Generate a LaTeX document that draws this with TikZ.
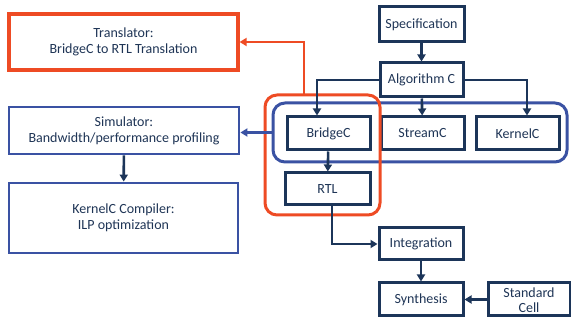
\documentclass[tikz,border=0pt]{standalone}
\usepackage{fontspec}
\setmainfont{Carlito}
\usetikzlibrary{arrows.meta}
\definecolor{navy}{HTML}{1C3559}
\definecolor{ink}{HTML}{1F3556}
\definecolor{flowblue}{HTML}{3A52A3}
\definecolor{flowred}{HTML}{EE4B24}
\tikzset{
  x=1pt, y=-1pt,
  every node/.style={font=\fontsize{14}{16}\selectfont, text=ink, inner sep=0pt, align=center},
  stage/.style={draw=navy, line width=3pt, fill=white},
  toolbox/.style={draw=flowblue, line width=2.8pt, fill=white},
  redbox/.style={draw=flowred, line width=3.2pt, fill=white},
  flow/.style={draw=navy, line width=2.6pt, -{Triangle[length=7pt,width=8pt]}},
  blueflow/.style={draw=flowblue, line width=2.4pt, -{Triangle[length=7pt,width=8pt]}},
  redflow/.style={draw=flowred, line width=2.4pt, -{Triangle[length=7pt,width=8pt]}},
  group/.style={line width=3pt, rounded corners=12pt}
}
\begin{document}
\begin{tikzpicture}
\useasboundingbox (0,0) rectangle (571,320);

% groupings
\node[group, draw=flowblue, minimum width=294pt, minimum height=59pt] (bluegrp) at (420,132.5) {};

% main flow stages
\node[stage, minimum width=85pt, minimum height=35pt] (spec) at (421.5,24.5) {Specification};
\node[stage, minimum width=83pt, minimum height=34pt] (alg) at (421.5,80) {Algorithm C};
\node[stage, minimum width=83pt, minimum height=33pt] (bridge) at (328.5,133.5) {BridgeC};
\node[stage, minimum width=83pt, minimum height=33pt] (stream) at (422.5,133.5) {StreamC};
\node[stage, minimum width=83pt, minimum height=33pt] (kernel) at (517.5,133.5) {KernelC};
\node[stage, minimum width=85pt, minimum height=32pt] (rtl) at (327.5,189) {RTL};
\node[stage, minimum width=84pt, minimum height=32pt] (integ) at (421,244) {Integration};
\node[stage, minimum width=84pt, minimum height=33pt] (synth) at (421,299.5) {Synthesis};
\node[stage, minimum width=82pt, minimum height=33pt] (stdcell) at (529,299.5) {};
\node[anchor=center] (stdtext) at (529,300.5) {Standard\\[-1pt]Cell};

\node[group, draw=flowred, minimum width=115pt, minimum height=120pt] (redgrp) at (322.5,155) {};

% tool boxes on the left
\node[redbox, minimum width=229pt, minimum height=56pt] (trans) at (123.5,42) {Translator:\\BridgeC to RTL Translation};
\node[toolbox, minimum width=230pt, minimum height=47pt] (sim) at (124,130.5) {Simulator:\\Bandwidth/performance profiling};
\node[toolbox, minimum width=229pt, minimum height=70pt] (kcomp) at (123.5,218) {KernelC Compiler:\\ILP optimization};

% connectors
\draw[flow] (spec) -- (alg);
\draw[flow] (alg.west) -| ([xshift=-11.5pt]bridge.north);
\draw[flow] (alg) -- (stream);
\draw[flow] (alg.east) -| ([xshift=9.5pt]kernel.north);
\draw[flow] (bridge) -- (rtl);
\draw[flow] ([xshift=4.5pt]rtl.south) |- (integ.west);
\draw[flow] (integ) -- (synth);
\draw[flow] (stdcell) -- (synth);

\coordinate (redtap) at (304,95);
\draw[redflow] (redtap) |- (trans.east);
\draw[blueflow] (bluegrp.west) -- (bluegrp.west -| sim.east);
\draw[flow] (sim) -- (kcomp);
\end{tikzpicture}
\end{document}
